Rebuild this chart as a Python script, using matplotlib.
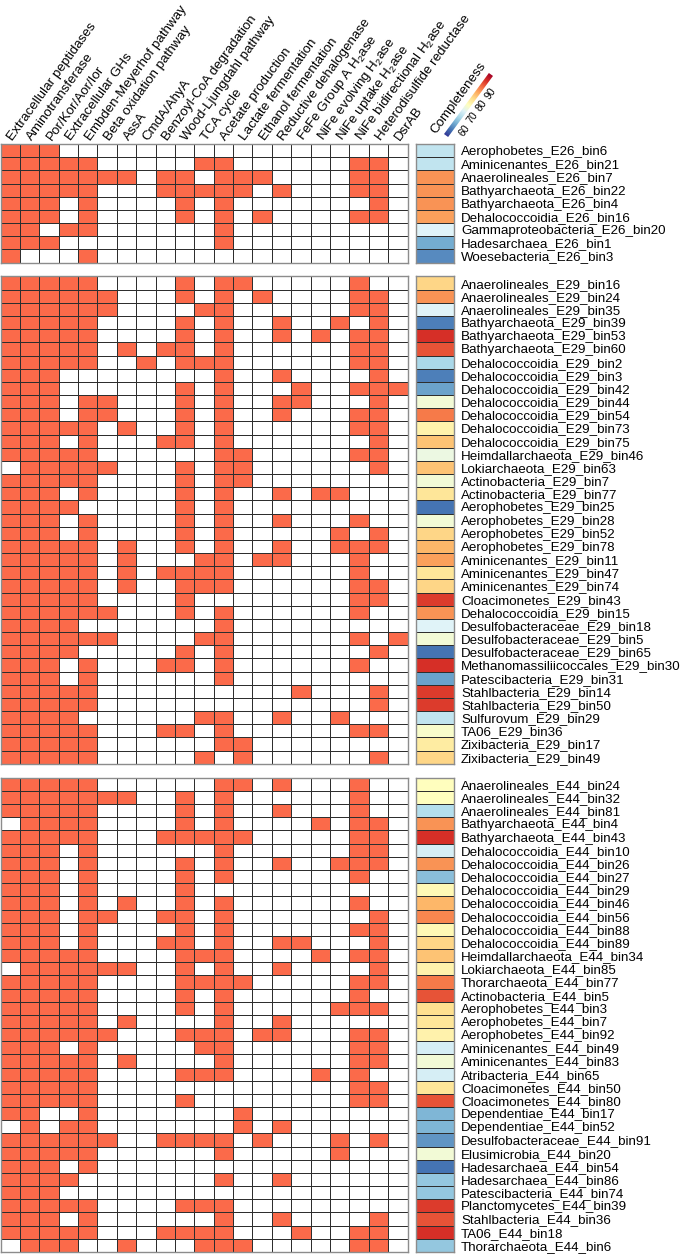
import numpy as np
import matplotlib
matplotlib.use('Agg')
import matplotlib.pyplot as plt
from matplotlib.colors import ListedColormap, Normalize
from matplotlib.transforms import Affine2D

plt.rcParams['font.family'] = ['Liberation Sans', 'DejaVu Sans']
plt.rcParams['mathtext.fontset'] = 'custom'
plt.rcParams['mathtext.rm'] = 'Liberation Sans'
plt.rcParams['mathtext.it'] = 'Liberation Sans:italic'

# pathway columns
pathways = [
    'Extracellular peptidases', 'Aminotransferase', 'Por/Kor/Aor/Ior',
    'Extracellular GHs', 'Embden-Meyerhof pathway', 'Beta oxidation pathway',
    'AssA', 'CmdA/AhyA', 'Benzoyl-CoA degradation', 'Wood-Ljungdahl pathway',
    'TCA cycle', 'Acetate production', 'Lactate fermentation',
    'Ethanol fermentation', 'Reductive dehalogenase', r'FeFe Group A H$_2$ase',
    r'NiFe evolving H$_2$ase', r'NiFe uptake H$_2$ase',
    r'NiFe bidirectional H$_2$ase', 'Heterodisulfide reductase', 'DsrAB',
]

# ---- E26 ----
e26_bins = [
    'Aerophobetes_E26_bin6', 'Aminicenantes_E26_bin21', 'Anaerolineales_E26_bin7',
    'Bathyarchaeota_E26_bin22', 'Bathyarchaeota_E26_bin4', 'Dehalococcoidia_E26_bin16',
    'Gammaproteobacteria_E26_bin20', 'Hadesarchaea_E26_bin1', 'Woesebacteria_E26_bin3',
]
e26_completeness = [67, 67, 87, 87, 87, 86, 70, 60, 57]
e26_presence = [
    '111000000000000000000',
    '111110000011000000110',
    '111111101101110000110',
    '111110001111101000110',
    '111010000101000000010',
    '111010000101010000110',
    '110110000001000000000',
    '111000000001000000000',
    '100010000000000000000',
]

# ---- E29 ----
e29_bins = [
    'Anaerolineales_E29_bin16', 'Anaerolineales_E29_bin24', 'Anaerolineales_E29_bin35',
    'Bathyarchaeota_E29_bin39', 'Bathyarchaeota_E29_bin53', 'Bathyarchaeota_E29_bin60',
    'Dehalococcoidia_E29_bin2', 'Dehalococcoidia_E29_bin3', 'Dehalococcoidia_E29_bin42',
    'Dehalococcoidia_E29_bin44', 'Dehalococcoidia_E29_bin54', 'Dehalococcoidia_E29_bin73',
    'Dehalococcoidia_E29_bin75', 'Heimdallarchaeota_E29_bin46', 'Lokiarchaeota_E29_bin63',
    'Actinobacteria_E29_bin7', 'Actinobacteria_E29_bin77', 'Aerophobetes_E29_bin25',
    'Aerophobetes_E29_bin28', 'Aerophobetes_E29_bin52', 'Aerophobetes_E29_bin78',
    'Aminicenantes_E29_bin11', 'Aminicenantes_E29_bin47', 'Aminicenantes_E29_bin74',
    'Cloacimonetes_E29_bin43', 'Dehalococcoidia_E29_bin15', 'Desulfobacteraceae_E29_bin18',
    'Desulfobacteraceae_E29_bin5', 'Desulfobacteraceae_E29_bin65',
    'Methanomassiliicoccales_E29_bin30', 'Patescibacteria_E29_bin31',
    'Stahlbacteria_E29_bin14', 'Stahlbacteria_E29_bin50', 'Sulfurovum_E29_bin29',
    'TA06_E29_bin36', 'Zixibacteria_E29_bin17', 'Zixibacteria_E29_bin49',
]
e29_completeness = [81, 87, 70, 56, 95, 92, 65, 56, 59, 73, 89, 77, 83, 72, 83, 73, 79,
                    55, 73, 81, 84, 86, 79, 81, 94, 87, 70, 73, 55, 95, 59, 94, 94, 67,
                    74, 78, 81]
e29_presence = [
    '111110000101100000100',
    '111111000101010000110',
    '111111000011000000110',
    '111110000101001001010',
    '111110000101001010110',
    '111110101101000000110',
    '111110010111000000110',
    '111000000001001000010',
    '111000000101000100111',
    '111011000101001100010',
    '111011000101001000110',
    '111110100101000000110',
    '111010001101000000010',
    '111110000001100000110',
    '011111000101100000010',
    '111110000101100000000',
    '111010000101001011000',
    '111100000101000000000',
    '111010000101001000100',
    '111010000101000001010',
    '111110100101001001110',
    '111110100011011000100',
    '111110101111000000100',
    '111110100111000000110',
    '111110000100000000110',
    '111111000101000000100',
    '111100000001000000000',
    '111111000011000000101',
    '111100000101000000010',
    '111010001101000000100',
    '111010000001000000000',
    '111110000000000100010',
    '111110000000000000010',
    '111100000011001001000',
    '111110001101000000110',
    '111110000001100000000',
    '111110000010100000010',
]

# ---- E44 ----
e44_bins = [
    'Anaerolineales_E44_bin24', 'Anaerolineales_E44_bin32', 'Anaerolineales_E44_bin81',
    'Bathyarchaeota_E44_bin4', 'Bathyarchaeota_E44_bin43', 'Dehalococcoidia_E44_bin10',
    'Dehalococcoidia_E44_bin26', 'Dehalococcoidia_E44_bin27', 'Dehalococcoidia_E44_bin29',
    'Dehalococcoidia_E44_bin46', 'Dehalococcoidia_E44_bin56', 'Dehalococcoidia_E44_bin88',
    'Dehalococcoidia_E44_bin89', 'Heimdallarchaeota_E44_bin34', 'Lokiarchaeota_E44_bin85',
    'Thorarchaeota_E44_bin77', 'Actinobacteria_E44_bin5', 'Aerophobetes_E44_bin3',
    'Aerophobetes_E44_bin7', 'Aerophobetes_E44_bin92', 'Aminicenantes_E44_bin49',
    'Aminicenantes_E44_bin83', 'Atribacteria_E44_bin65', 'Cloacimonetes_E44_bin50',
    'Cloacimonetes_E44_bin80', 'Dependentiae_E44_bin17', 'Dependentiae_E44_bin52',
    'Desulfobacteraceae_E44_bin91', 'Elusimicrobia_E44_bin20', 'Hadesarchaea_E44_bin54',
    'Hadesarchaea_E44_bin86', 'Patescibacteria_E44_bin74', 'Planctomycetes_E44_bin39',
    'Stahlbacteria_E44_bin36', 'TA06_E44_bin18', 'Thorarchaeota_E44_bin6',
]
e44_completeness = [75, 75, 66, 87, 95, 69, 87, 62, 76, 84, 88, 76, 81, 83, 77, 89, 92,
                    80, 79, 77, 69, 73, 69, 79, 92, 61, 61, 58, 73, 55, 63, 63, 94, 92,
                    95, 63]
e44_presence = [
    '111110000001101000100',
    '111111100101000000100',
    '111110000101001000100',
    '011110000101000010110',
    '111110001111100000110',
    '111010000001000000110',
    '111010000101001001110',
    '111010000101000000100',
    '111010000100000000000',
    '111010100101000000100',
    '111011001101000000010',
    '111010000101000000110',
    '111010001101001100010',
    '111110000111000010110',
    '011111100101001000010',
    '111110000111100000110',
    '111110000101000000100',
    '111110000101000001110',
    '111110100001001000000',
    '111111000111011000110',
    '111010000011000000110',
    '111110100001000000110',
    '111110000111000010100',
    '111110000000000000110',
    '111110000100000000110',
    '110010000000100000000',
    '010110000000101000000',
    '111111001111010001010',
    '111110000001000001000',
    '111010000000000000000',
    '111100000001001000000',
    '111000000000000000000',
    '111110000111000000000',
    '111010000001001000010',
    '111110001111000100110',
    '011100100011100000110',
]

legend_ticks = [60, 70, 80, 90]

blocks = [
    (e26_bins, e26_completeness, e26_presence),
    (e29_bins, e29_completeness, e29_presence),
    (e44_bins, e44_completeness, e44_presence),
]

# layout, in pixels from the top-left corner
W, H = 682, 1254
row_h = 13.17
block_tops = [144, 276.5, 777.8]
grid_w = 407
anno_x, anno_w = 416, 38
edge = '#2e2e2e'
frame = '#8c8c8c'
fontsize = 9.6
rot = 54

presence_cmap = ListedColormap(['white', '#fb6a4a'])
comp_cmap = plt.get_cmap('RdYlBu_r')
comp_norm = Normalize(vmin=50, vmax=100)

fig = plt.figure(figsize=(W / 100, H / 100), dpi=100)


def px_axes(x0, top, w, h):
    return fig.add_axes([x0 / W, 1 - (top + h) / H, w / W, h / H])


def style_frame(ax):
    ax.set_xticks([])
    for s in ax.spines.values():
        s.set_color(frame)
        s.set_linewidth(1.0)


for k, (bins, comp, presence) in enumerate(blocks):
    n = len(bins)
    top = block_tops[k]
    mat = np.array([[int(c) for c in row] for row in presence])

    ax = px_axes(0.5, top, grid_w, n * row_h)
    ax.pcolormesh(mat, cmap=presence_cmap, vmin=0, vmax=1,
                  edgecolors=edge, linewidth=0.5)
    ax.set_xlim(0, len(pathways))
    ax.set_ylim(n, 0)
    ax.set_yticks([])
    style_frame(ax)

    if k == 0:
        for j, name in enumerate(pathways):
            ax.text(j + 0.5, -0.35, name, rotation=rot, rotation_mode='anchor',
                    ha='left', va='center', fontsize=fontsize, clip_on=False)

    ca = px_axes(anno_x, top, anno_w, n * row_h)
    ca.pcolormesh(np.array(comp, dtype=float)[:, None], cmap=comp_cmap,
                  norm=comp_norm, edgecolors=edge, linewidth=0.5)
    ca.set_ylim(n, 0)
    ca.yaxis.tick_right()
    ca.set_yticks(np.arange(n) + 0.5, bins, fontsize=fontsize)
    ca.tick_params(axis='y', length=0, pad=5)
    style_frame(ca)

# rotated completeness legend, drawn on a full-figure overlay in pixel units
ov = fig.add_axes([0, 0, 1, 1])
ov.axis('off')
bar_len, bar_w = 75, 5
tr = Affine2D().rotate_deg(rot).translate(448, H - 137) + ov.transData
grad = np.linspace(comp_norm.vmin, comp_norm.vmax, 256)[None, :]
ov.imshow(grad, cmap=comp_cmap, norm=comp_norm, extent=(0, bar_len, 0, bar_w),
          aspect='auto', interpolation='bilinear', transform=tr)
ov.set_xlim(0, W)
ov.set_ylim(0, H)
scale = bar_len / (comp_norm.vmax - comp_norm.vmin)
for t in legend_ticks:
    ov.text((t - comp_norm.vmin) * scale, -4, str(t), transform=tr, rotation=rot,
            rotation_mode='anchor', ha='center', va='top', fontsize=7.6)
ov.text(bar_len / 2, bar_w + 3, 'Completeness', transform=tr, rotation=rot,
        rotation_mode='anchor', ha='center', va='bottom', fontsize=fontsize)

fig.savefig('out.png', dpi=100)
